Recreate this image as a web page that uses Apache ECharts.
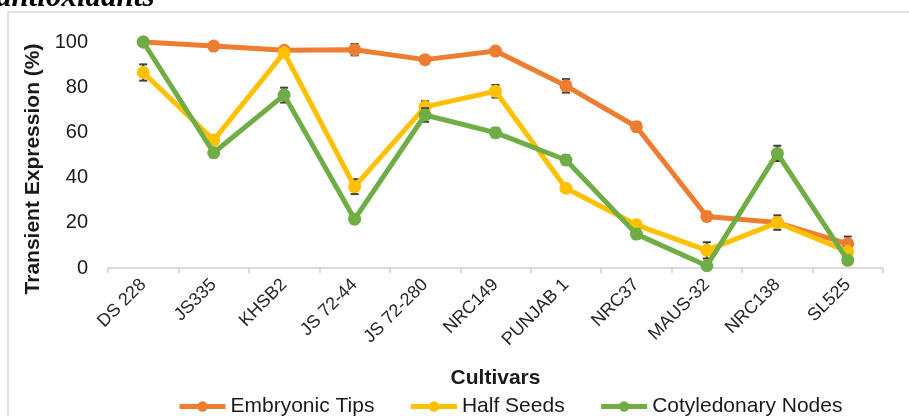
<!DOCTYPE html>
<html>
<head>
<meta charset="utf-8">
<script src="https://cdn.jsdelivr.net/npm/echarts@6/dist/echarts.min.js"></script>
<style>
  html, body { margin: 0; padding: 0; background: #fff; }
  #chart { width: 909px; height: 416px; }
</style>
</head>
<body>
<div id="chart"></div>
<script>
// Cultivars on the x axis
const cultivars = ['DS 228', 'JS335', 'KHSB2', 'JS 72-44', 'JS 72-280', 'NRC149',
                   'PUNJAB 1', 'NRC37', 'MAUS-32', 'NRC138', 'SL525'];

// Transient expression (%) per explant type
const embryonicTips      = [100, 98.2, 96.3, 96.6, 92.2, 96, 80.6, 62.5, 22.8, 20.1, 10.7];
const halfSeeds          = [86.5, 56.6, 95.3, 36, 71.3, 78.2, 35.3, 19.1, 7.8, 20.1, 7.3];
const cotyledonaryNodes  = [100, 51, 76.5, 21.6, 67.7, 59.9, 47.8, 15, 1, 50.7, 3.4];

// Standard error (half-width of each error bar)
const embryonicTipsErr     = [0.5, 1, 1.5, 2.5, 1.5, 1, 3, 2, 2, 2, 3.2];
const halfSeedsErr         = [3.6, 2, 2, 3.3, 2.5, 2.8, 1, 1, 3.6, 3.2, 2];
const cotyledonaryNodesErr = [0.5, 2, 3.3, 1, 3, 2, 2, 2, 1, 3.4, 1];

// Y axis ticks
const yTicks = [0, 20, 40, 60, 80, 100];

const FONT = '"Liberation Sans", Arial, sans-serif';
const colors = { tips: '#ED7D31', half: '#FFC000', nodes: '#70AD47' };

function lineSeries(name, values, color, z) {
  return {
    name: name,
    type: 'line',
    data: values,
    z: z,
    symbol: 'circle',
    symbolSize: 13,
    showAllSymbol: true,
    lineStyle: { color: color, width: 5 },
    itemStyle: { color: color },
    emphasis: { disabled: true },
    animation: false
  };
}

// Error bars sit just beneath their own line, so the markers cover the middle
function errorSeries(values, errs, z) {
  return {
    type: 'custom',
    z: z,
    silent: true,
    animation: false,
    data: values.map((v, i) => [i, v, errs[i]]),
    renderItem: function (params, api) {
      const i = api.value(0), v = api.value(1), e = api.value(2);
      const hi = api.coord([i, v + e]);
      const lo = api.coord([i, v - e]);
      const half = 4;
      const style = { stroke: '#404040', lineWidth: 2 };
      return {
        type: 'group',
        children: [
          { type: 'line', shape: { x1: hi[0], y1: hi[1], x2: lo[0], y2: lo[1] }, style: style },
          { type: 'line', shape: { x1: hi[0] - half, y1: hi[1], x2: hi[0] + half, y2: hi[1] }, style: style },
          { type: 'line', shape: { x1: lo[0] - half, y1: lo[1], x2: lo[0] + half, y2: lo[1] }, style: style }
        ]
      };
    }
  };
}

const chart = echarts.init(document.getElementById('chart'), null, { renderer: 'canvas' });

chart.setOption({
  backgroundColor: '#ffffff',
  animation: false,
  textStyle: { fontFamily: FONT },
  graphic: [
    {
      type: 'rect',
      shape: { x: 8, y: 12, width: 1000, height: 500 },
      style: { fill: 'none', stroke: '#d9d9d9', lineWidth: 1.5 },
      z: -1
    },
    {
      type: 'text',
      x: -4,
      y: 13,
      style: {
        text: 'antioxidants',
        font: 'italic bold 31px "Liberation Serif", "DejaVu Serif", serif',
        fill: '#000',
        verticalAlign: 'bottom'
      }
    },
    {
      type: 'text',
      x: 33,
      y: 169,
      rotation: Math.PI / 2,
      style: {
        text: 'Transient Expression (%)',
        font: 'bold 21px "Liberation Sans", Arial, sans-serif',
        fill: '#1a1a1a',
        align: 'center',
        verticalAlign: 'middle'
      }
    }
  ],
  grid: { left: 108, right: 26, top: 42, bottom: 148, containLabel: false },
  legend: {
    left: 172,
    top: 391,
    itemWidth: 46,
    itemHeight: 13,
    itemGap: 34,
    lineStyle: { width: 5 },
    textStyle: { fontFamily: FONT, fontSize: 21, color: '#1a1a1a' },
    data: ['Embryonic Tips', 'Half Seeds', 'Cotyledonary Nodes']
  },
  xAxis: {
    type: 'category',
    data: cultivars,
    boundaryGap: true,
    name: 'Cultivars',
    nameLocation: 'middle',
    nameGap: 100,
    nameTextStyle: { fontFamily: FONT, fontSize: 21, fontWeight: 'bold', color: '#1a1a1a' },
    axisLine: { lineStyle: { color: '#d0d0d0', width: 1.5 } },
    axisTick: { show: true, length: 5, lineStyle: { color: '#d0d0d0', width: 1.5 } },
    axisLabel: { interval: 0, rotate: 45, margin: 14, fontSize: 18, fontFamily: FONT, color: '#262626' },
    splitLine: { show: false }
  },
  yAxis: {
    type: 'value',
    min: yTicks[0],
    max: yTicks[yTicks.length - 1],
    interval: yTicks[1] - yTicks[0],
    axisLine: { show: false },
    axisTick: { show: false },
    splitLine: { show: false },
    axisLabel: { margin: 20, fontSize: 20, fontFamily: FONT, color: '#1a1a1a' }
  },
  series: [
    errorSeries(embryonicTips, embryonicTipsErr, 2),
    lineSeries('Embryonic Tips', embryonicTips, colors.tips, 3),
    errorSeries(halfSeeds, halfSeedsErr, 4),
    lineSeries('Half Seeds', halfSeeds, colors.half, 5),
    errorSeries(cotyledonaryNodes, cotyledonaryNodesErr, 6),
    lineSeries('Cotyledonary Nodes', cotyledonaryNodes, colors.nodes, 7)
  ]
});
</script>
</body>
</html>
